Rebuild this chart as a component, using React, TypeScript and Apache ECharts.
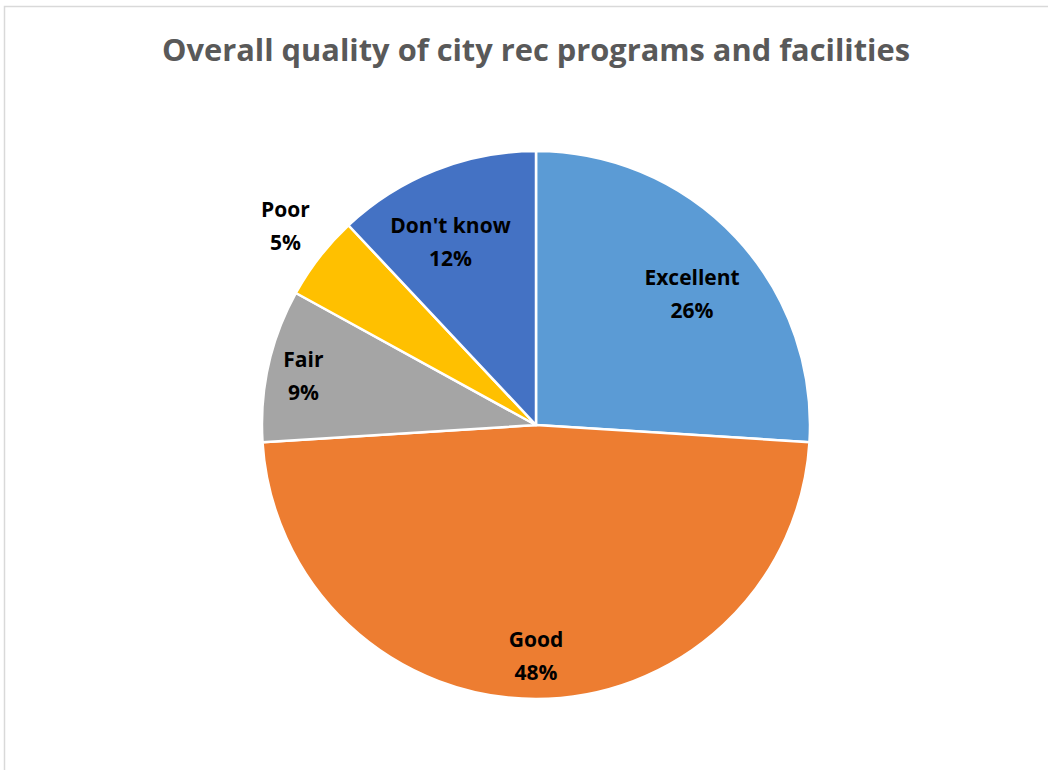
import React, { useEffect, useRef } from "react";
import * as echarts from "echarts";

const titleText = "Overall quality of city rec programs and facilities";
const categories = ["Excellent", "Good", "Fair", "Poor", "Don't know"];
const values = [26, 48, 9, 5, 12];
const colors = ["#5B9BD5", "#ED7D31", "#A5A5A5", "#FFC000", "#4472C4"];
const labelOffsets = [
  [54, -36],
  [0, 90],
  [-96, -19],
  [-140, -114],
  [-34, -53],
];

export default function App() {
  const ref = useRef<HTMLDivElement>(null);
  useEffect(() => {
    if (!ref.current) return;
    const chart = echarts.init(ref.current, undefined, { renderer: "svg" });
    chart.setOption({
      animation: false,
      backgroundColor: "#ffffff",
      graphic: [
        {
          type: "rect",
          shape: { x: 4.5, y: 6.5, width: 1100, height: 800 },
          style: { fill: "none", stroke: "#d9d9d9", lineWidth: 1.5 },
          silent: true,
        },
        {
          type: "text",
          x: 536,
          y: 49,
          style: {
            text: titleText,
            fontFamily: "Open Sans",
            fontWeight: "bold",
            fontSize: 30.8,
            fill: "#595959",
            textAlign: "center",
            textVerticalAlign: "middle",
          },
        },
      ],
      series: [
        {
          type: "pie",
          center: [536, 425],
          radius: [0, 274],
          startAngle: 90,
          clockwise: true,
          data: categories.map((c, i) => ({
            name: c,
            value: values[i],
            itemStyle: { color: colors[i] },
          })),
          itemStyle: { borderColor: "#ffffff", borderWidth: 2.5 },
          label: {
            show: true,
            position: "inside",
            formatter: "{b}\n{c}%",
            fontFamily: "Open Sans",
            fontWeight: "bold",
            fontSize: 21,
            lineHeight: 33,
            color: "#000000",
          },
          labelLine: { show: false },
          labelLayout: (params: any) => {
            const o = labelOffsets[params.dataIndex];
            return { dx: o[0], dy: o[1] };
          },
        },
      ],
    });
    return () => chart.dispose();
  }, []);
  return (
    <div
      ref={ref}
      style={{ position: "fixed", left: 0, top: 0, width: 1048, height: 770 }}
    />
  );
}
